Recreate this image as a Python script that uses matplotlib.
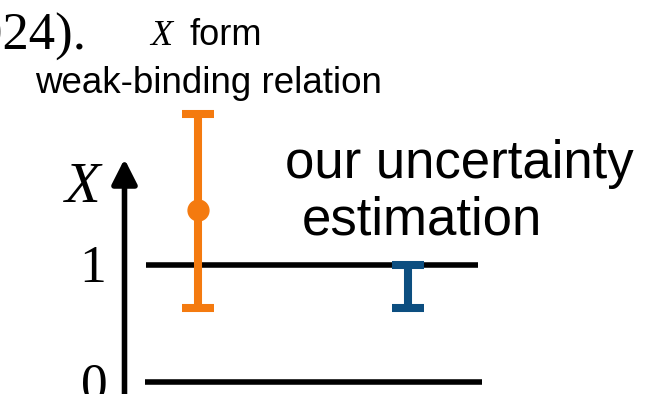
import matplotlib
matplotlib.use("Agg")
import matplotlib.pyplot as plt

# Schematic comparison of X estimates
estimates = ["weak-binding relation", "our uncertainty estimation"]
centers = [1.47, None]
lower = [0.63, 0.63]
upper = [2.30, 1.00]
colors = ["#F47A0F", "#0C4E80"]
ref_levels = [1, 0]
ref_labels = ["1", "0"]

W, H = 653, 394
DPI = 100
fig = plt.figure(figsize=(W / DPI, H / DPI), dpi=DPI)
ax = fig.add_axes([0, 0, 1, 1])
ax.set_axis_off()

# pixel-aligned layout: x in pixels, y in data units of X
y0_px, y1_px = 381.5, 265.0
scale = y0_px - y1_px
ax.set_xlim(0, W)
ax.set_ylim((y0_px - H) / scale, y0_px / scale)

x_pos = [197.5, 408.0]
line_spans = [(146, 478), (145, 482)]

SERIF = "Liberation Serif"
SANS = "Liberation Sans"


def fpos(px, py):
    return px / W, 1 - py / H


# reference levels X = 1 and X = 0
for lvl, (xa, xb) in zip(ref_levels, line_spans):
    ax.hlines(lvl, xa, xb, color="black", lw=4.0, capstyle="butt", zorder=1)

# vertical X axis arrow
ax.annotate("", xy=(124.5, (y0_px - 159) / scale), xytext=(124.5, (y0_px - H - 10) / scale),
            arrowprops=dict(arrowstyle="-|>,head_length=0.75,head_width=0.38",
                            mutation_scale=20, lw=4.0, color="black",
                            shrinkA=0, shrinkB=0))

# error bars
for x, c, lo, hi, col in zip(x_pos, centers, lower, upper, colors):
    if c is not None:
        ax.errorbar([x], [c], yerr=[[c - lo], [hi - c]], fmt="o", color=col,
                    ms=15, elinewidth=5.8, capsize=11.2, capthick=5.8, zorder=3)
    else:
        ax.errorbar([x], [lo], yerr=[[0], [hi - lo]], fmt="none", ecolor=col,
                    elinewidth=5.8, capsize=11.2, capthick=5.8, zorder=3)

# tick labels on the X axis
for lbl, px_left, base in zip(ref_labels, [79, 81], [282, 400]):
    fig.text(*fpos(px_left, base), lbl, family=SERIF, fontsize=38.5,
             ha="left", va="baseline")

fig.text(*fpos(65, 202), "X", family=SERIF, style="italic", fontsize=42,
         ha="left", va="baseline")

# annotations
fig.text(*fpos(-24.5, 50), "024).", family=SERIF, fontsize=38,
         ha="left", va="baseline")
fig.text(*fpos(150, 45), "X", family=SERIF, style="italic", fontsize=26,
         ha="left", va="baseline")
fig.text(*fpos(190, 45), "form", family=SANS, fontsize=26,
         ha="left", va="baseline")
fig.text(*fpos(35, 93), estimates[0], family=SANS, fontsize=26.5,
         ha="left", va="baseline")
fig.text(*fpos(285, 178), "our uncertainty", family=SANS, fontsize=38,
         ha="left", va="baseline")
fig.text(*fpos(302, 235), "estimation", family=SANS, fontsize=38,
         ha="left", va="baseline")

fig.savefig("out.png", dpi=DPI)
